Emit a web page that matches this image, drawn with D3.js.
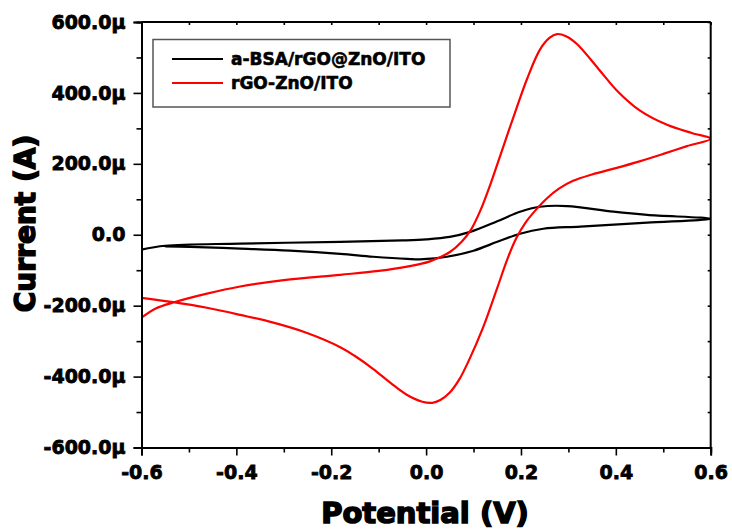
<!DOCTYPE html>
<html><head><meta charset="utf-8">
<script src="https://cdn.jsdelivr.net/npm/d3@7"></script>
<style>body{margin:0;background:#fff}svg{display:block}</style>
</head><body>
<script>
// Data (potential V, current µA)
const blackName = "a-BSA/rGO@ZnO/ITO";
const redName = "rGO-ZnO/ITO";
const blackV = [-0.6,-0.55,-0.392,-0.181,-0.05,0.0,0.05,0.093,0.15,0.198,0.24,0.297,0.395,0.466,0.6,
                0.466,0.325,0.247,0.198,0.15,0.1,0.044,-0.006,-0.04,-0.112,-0.181,-0.287,-0.392,-0.498,-0.55];
const blackI = [-42,-31,-25,-20,-16,-13,-6,8,38,65,79,81,65,56,45,
                34,23,17,3,-20,-45,-62,-69,-68,-62,-54,-45,-39,-34,-33];
const redV = [-0.6,-0.57,-0.533,-0.462,-0.392,-0.3,-0.181,-0.1,-0.04,0.008,0.051,0.075,0.095,0.115,0.135,0.156,0.192,0.213,0.24,0.26,0.276,0.295,0.318,0.367,0.402,0.451,0.508,0.56,0.6,
              0.55,0.5,0.45,0.4,0.35,0.31,0.28,0.255,0.23,0.21,0.19,0.171,0.15,0.12,0.09,0.07,0.05,0.03,0.013,-0.008,-0.04,-0.075,-0.112,-0.15,-0.181,-0.251,-0.322,-0.392,-0.462,-0.533,-0.6];
const redI = [-234,-208,-191,-166,-146,-128,-113,-102,-90,-75,-48,-20,15,70,140,222,362,440,522,555,566,560,538,462,407,350,310,287,271,
              250,228,207,188,170,152,130,103,68,35,-10,-70,-150,-262,-355,-408,-445,-466,-474,-471,-452,-418,-378,-342,-317,-277,-248,-226,-206,-190,-178];
const xTicks = [-0.6,-0.4,-0.2,0.0,0.2,0.4,0.6];
const xTickLabels = ["-0.6","-0.4","-0.2","0.0","0.2","0.4","0.6"];
const yTicks = [-600,-400,-200,0,200,400,600];
const yTickLabels = ["-600.0µ","-400.0µ","-200.0µ","0.0","200.0µ","400.0µ","600.0µ"];
const xMinor = [-0.5,-0.3,-0.1,0.1,0.3,0.5];
const yMinor = [-500,-300,-100,100,300,500];
const xTitle = "Potential (V)";
const yTitle = "Current (A)";

const W = 732, H = 529;
const m = {left:141.5, right:710.7, top:22, bottom:447.5};
const svg = d3.select("body").append("svg").attr("width",W).attr("height",H);
const x = d3.scaleLinear().domain([-0.6,0.6]).range([m.left,m.right]);
const y = d3.scaleLinear().domain([-600,600]).range([m.bottom,m.top]);
const font = "DejaVu Sans, sans-serif";

// curves
const line = d3.line().x(d=>x(d[0])).y(d=>y(d[1])).curve(d3.curveCatmullRom.alpha(0.5));
svg.append("clipPath").attr("id","c").append("rect")
  .attr("x",m.left).attr("y",m.top).attr("width",m.right-m.left).attr("height",m.bottom-m.top);
const g = svg.append("g").attr("clip-path","url(#c)");
g.append("path").datum(blackV.map((v,i)=>[v,blackI[i]])).attr("d",line)
  .attr("fill","none").attr("stroke","#000").attr("stroke-width",2.2);
g.append("path").datum(redV.map((v,i)=>[v,redI[i]])).attr("d",line)
  .attr("fill","none").attr("stroke","#ff0000").attr("stroke-width",2.2);

// axes
const ax = svg.append("g").attr("transform",`translate(0,${m.bottom})`)
  .call(d3.axisBottom(x).tickValues(xTicks).tickFormat((d,i)=>xTickLabels[i]).tickSize(8).tickPadding(5));
const axm = svg.append("g").attr("transform",`translate(0,${m.bottom})`)
  .call(d3.axisBottom(x).tickValues(xMinor).tickFormat("").tickSize(5));
const ay = svg.append("g").attr("transform",`translate(${m.left},0)`)
  .call(d3.axisLeft(y).tickValues(yTicks).tickFormat((d,i)=>yTickLabels[i]).tickSize(8).tickPadding(8));
const aym = svg.append("g").attr("transform",`translate(${m.left},0)`)
  .call(d3.axisLeft(y).tickValues(yMinor).tickFormat("").tickSize(5));
const at = svg.append("g").attr("transform",`translate(0,${m.top})`)
  .call(d3.axisBottom(x).tickValues(xTicks.concat(xMinor)).tickFormat("").tickSize(3));
const ar = svg.append("g").attr("transform",`translate(${m.right},0)`)
  .call(d3.axisLeft(y).tickValues(yTicks.concat(yMinor)).tickFormat("").tickSize(3));
[ax,axm,ay,aym,at,ar].forEach(a=>{
  a.selectAll(".domain").attr("stroke","#000").attr("stroke-width",2);
  a.selectAll(".tick line").attr("stroke","#000").attr("stroke-width",1.6);
});
[at,ar].forEach(a=>a.select(".domain").remove());
svg.append("line").attr("x1",m.left).attr("x2",m.right).attr("y1",m.top).attr("y2",m.top).attr("stroke","#000").attr("stroke-width",2);
svg.append("line").attr("x1",m.right).attr("x2",m.right).attr("y1",m.top).attr("y2",m.bottom).attr("stroke","#000").attr("stroke-width",2);

[ax,ay].forEach(a=>a.selectAll(".tick text")
  .attr("font-family",font).attr("font-weight","bold").attr("font-size",19)
  .attr("fill","#000").attr("stroke","#000").attr("stroke-width",0.8));
ax.selectAll(".tick text").attr("dy","0.95em");

// titles
svg.append("text").attr("x",425).attr("y",523).attr("text-anchor","middle")
  .attr("font-family",font).attr("font-weight","bold").attr("font-size",29)
  .attr("stroke","#000").attr("stroke-width",1.5).text(xTitle);
svg.append("text").attr("transform","translate(35,223.5) rotate(-90)").attr("text-anchor","middle")
  .attr("font-family",font).attr("font-weight","bold").attr("font-size",28)
  .attr("stroke","#000").attr("stroke-width",1.5).text(yTitle);

// legend
const lg = svg.append("g");
lg.append("rect").attr("x",153).attr("y",39.5).attr("width",297).attr("height",67.5)
  .attr("fill","#fff").attr("stroke","#555").attr("stroke-width",1.5);
const items = [[blackName,"#000"],[redName,"#ff0000"]];
items.forEach((d,i)=>{
  const yy = 59 + i*24;
  lg.append("line").attr("x1",172).attr("x2",223).attr("y1",yy).attr("y2",yy)
    .attr("stroke",d[1]).attr("stroke-width",2);
  lg.append("text").attr("x",231).attr("y",yy+6).attr("font-family",font).attr("font-weight","bold")
    .attr("font-size",17).attr("stroke","#000").attr("stroke-width",0.6).text(d[0]);
});
</script>
</body></html>
